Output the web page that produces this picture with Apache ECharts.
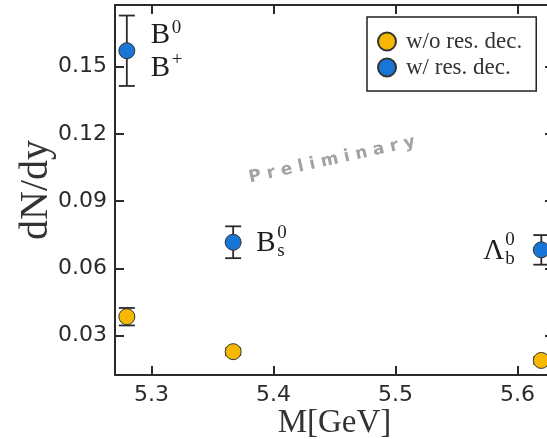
<!DOCTYPE html>
<html>
<head>
<meta charset="utf-8">
<script src="https://cdn.jsdelivr.net/npm/echarts@6/dist/echarts.min.js"></script>
<style>
  html, body { margin: 0; padding: 0; background: #fff; }
  #chart { width: 547px; height: 439px; }
</style>
</head>
<body>
<div id="chart"></div>
<script>
// ---- data ----
const particles = ['B0/B+', 'Bs0', 'Lb0'];
const masses = [5.2797, 5.3669, 5.6196];           // GeV
const withRes = [0.1571, 0.0717, 0.0683];          // w/ res. dec.
const withResErr = [0.0157, 0.0071, 0.0066];
const withoutRes = [0.0385, 0.0229, 0.0190];       // w/o res. dec.
const withoutResErr = [0.0039, 0.0015, 0.0015];
const xTicks = [5.3, 5.4, 5.5, 5.6];
const yTicks = [0.03, 0.06, 0.09, 0.12, 0.15];
const xRange = [5.27, 5.63];
const yRange = [0.0125, 0.1775];

const BLUE = '#1a76d6';
const YELLOW = '#f6b800';
const INK = '#2b2b2b';
const SERIF = '"Liberation Serif", "DejaVu Serif", serif';
const SANS = '"DejaVu Sans", sans-serif';

const chart = echarts.init(document.getElementById('chart'), null, { renderer: 'canvas' });

function pts(vals) { return masses.map((m, i) => [m, vals[i]]); }
function errPts(vals, errs) { return masses.map((m, i) => [m, vals[i], errs[i]]); }

function errorRender(params, api) {
  const x = api.value(0), y = api.value(1), e = api.value(2);
  const top = api.coord([x, y + e]);
  const bot = api.coord([x, y - e]);
  const hw = 8;
  const st = { stroke: INK, lineWidth: 1.8 };
  return {
    type: 'group',
    children: [
      { type: 'line', shape: { x1: top[0], y1: top[1], x2: bot[0], y2: bot[1] }, style: st },
      { type: 'line', shape: { x1: top[0] - hw, y1: top[1], x2: top[0] + hw, y2: top[1] }, style: st },
      { type: 'line', shape: { x1: bot[0] - hw, y1: bot[1], x2: bot[0] + hw, y2: bot[1] }, style: st }
    ]
  };
}

const axisLine = { show: true, onZero: false, lineStyle: { color: INK, width: 2 } };
const tickStyle = { color: INK, width: 2 };

const option = {
  animation: false,
  backgroundColor: '#fff',
  grid: { left: 115, top: 5, right: -7, bottom: 64, containLabel: false, outerBoundsMode: 'none' },
  legend: {
    orient: 'vertical',
    left: 367, top: 17,
    padding: [13, 14, 12, 10],
    itemWidth: 20, itemHeight: 18, itemGap: 3,
    borderColor: '#222', borderWidth: 1.5, borderRadius: 0,
    backgroundColor: '#fff',
    icon: 'circle',
    textStyle: { fontFamily: SERIF, fontSize: 23, color: '#333', padding: [0, 0, 0, 4] },
    data: ['w/o res. dec.', 'w/ res. dec.']
  },
  xAxis: [
    {
      type: 'value', min: xRange[0], max: xRange[1], position: 'bottom',
      name: 'M[GeV]', nameLocation: 'middle', nameGap: 32, nameMoveOverlap: false,
      nameTextStyle: { fontFamily: SERIF, fontSize: 33, color: '#333' },
      axisLine: axisLine,
      axisTick: { show: true, inside: true, length: 9, lineStyle: tickStyle, customValues: xTicks },
      axisLabel: { show: true, margin: 9, fontFamily: SANS, fontSize: 22, color: '#2a2a2a',
                   customValues: xTicks, formatter: v => v.toFixed(1) },
      splitLine: { show: false }
    },
    {
      type: 'value', min: xRange[0], max: xRange[1], position: 'top',
      axisLine: axisLine,
      axisTick: { show: true, inside: true, length: 9, lineStyle: tickStyle, customValues: xTicks },
      axisLabel: { show: false },
      splitLine: { show: false }
    }
  ],
  yAxis: [
    {
      type: 'value', min: yRange[0], max: yRange[1], position: 'left',
      name: 'dN/dy', nameLocation: 'middle', nameGap: 59, nameRotate: 90, nameMoveOverlap: false,
      nameTextStyle: { fontFamily: SERIF, fontSize: 40, color: '#333' },
      axisLine: axisLine,
      axisTick: { show: true, inside: true, length: 9, lineStyle: tickStyle, customValues: yTicks },
      axisLabel: { show: true, margin: 8, fontFamily: SANS, fontSize: 22, color: '#2a2a2a',
                   customValues: yTicks, formatter: v => v.toFixed(2) },
      splitLine: { show: false }
    },
    {
      type: 'value', min: yRange[0], max: yRange[1], position: 'right',
      axisLine: axisLine,
      axisTick: { show: true, inside: true, length: 9, lineStyle: tickStyle, customValues: yTicks },
      axisLabel: { show: false },
      splitLine: { show: false }
    }
  ],
  series: [
    {
      name: 'err-wo', type: 'custom', renderItem: errorRender,
      data: errPts(withoutRes, withoutResErr), z: 2, silent: true,
      encode: { x: 0, y: 1 }
    },
    {
      name: 'err-w', type: 'custom', renderItem: errorRender,
      data: errPts(withRes, withResErr), z: 2, silent: true,
      encode: { x: 0, y: 1 }
    },
    {
      name: 'w/o res. dec.', type: 'scatter', symbol: 'circle', symbolSize: 16,
      data: pts(withoutRes), z: 5,
      itemStyle: { color: YELLOW, borderColor: '#333', borderWidth: 1, opacity: 1 }
    },
    {
      name: 'w/ res. dec.', type: 'scatter', symbol: 'circle', symbolSize: 16,
      data: pts(withRes), z: 5,
      itemStyle: { color: BLUE, borderColor: '#333', borderWidth: 1, opacity: 1 }
    }
  ]
};

chart.setOption(option);

// ---- annotations (positioned from data through the chart's scales) ----
function txt(str, x, y, size, align, valign) {
  return {
    type: 'text', z: 100, silent: true,
    style: {
      text: str, x: x, y: y,
      font: size + 'px ' + SERIF,
      fill: '#1e1e1e',
      textAlign: align, textVerticalAlign: valign,
      align: align, verticalAlign: valign
    }
  };
}
const p0 = chart.convertToPixel({ seriesIndex: 3 }, [masses[0], withRes[0]]);
const p1 = chart.convertToPixel({ seriesIndex: 3 }, [masses[1], withRes[1]]);
const p2 = chart.convertToPixel({ seriesIndex: 3 }, [masses[2], withRes[2]]);
const big = 29, small = 19;
const graphics = [
  // B0 / B+
  txt('B', p0[0] + 24, p0[1] - 15, big, 'left', 'middle'),
  txt('0', p0[0] + 45, p0[1] - 23, small, 'left', 'middle'),
  txt('B', p0[0] + 24, p0[1] + 18, big, 'left', 'middle'),
  txt('+', p0[0] + 45, p0[1] + 9, small, 'left', 'middle'),
  // Bs0
  txt('B', p1[0] + 23, p1[1] + 1, big, 'left', 'middle'),
  txt('0', p1[0] + 44, p1[1] - 9, small, 'left', 'middle'),
  txt('s', p1[0] + 44, p1[1] + 9, small, 'left', 'middle'),
  // Lambda_b0
  txt('Λ', p2[0] - 37, p2[1] + 2, big, 'right', 'middle'),
  txt('0', p2[0] - 36, p2[1] - 10, small, 'left', 'middle'),
  txt('b', p2[0] - 36, p2[1] + 9, small, 'left', 'middle'),
  // watermark
  {
    type: 'text', z: 90, silent: true,
    x: 332, y: 160, rotation: 12.4 * Math.PI / 180,
    style: {
      text: 'P r e l i m i n a r y',
      font: 'bold 17px "DejaVu Sans", sans-serif',
      fill: '#a2a2a2',
      textAlign: 'center', textVerticalAlign: 'middle',
      align: 'center', verticalAlign: 'middle'
    }
  }
];
chart.setOption({ graphic: graphics });
</script>
</body>
</html>
